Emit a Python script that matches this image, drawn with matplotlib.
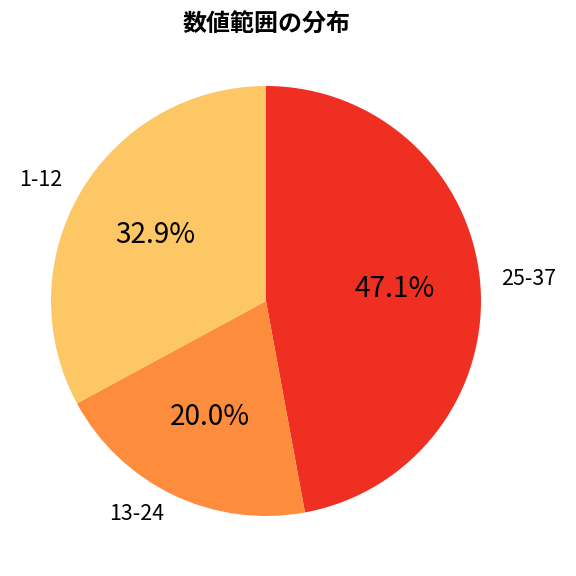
import matplotlib.pyplot as plt

plt.rcParams['font.family'] = ['Noto Sans CJK JP', 'DejaVu Sans']

labels = ['25-37', '13-24', '1-12']
shares = [47.1, 20.0, 32.9]
colors = ['#EE2F22', '#FD8D3C', '#FDC766']

W = 576.0
fig = plt.figure(figsize=(6, 6), dpi=96)
# pie centre at (266, 301) px from top-left, radius 215 px
r_px = 215.0
half = 1.25 * r_px
ax = fig.add_axes([(266 - half) / W, (W - 301 - half) / W, 2 * half / W, 2 * half / W])
wedges, texts, autotexts = ax.pie(shares, labels=labels, colors=colors,
                                  autopct='%1.1f%%', startangle=90,
                                  counterclock=False,
                                  textprops={'fontsize': 16})
for t in autotexts:
    t.set_fontsize(21)
ax.set_xlim(-1.25, 1.25)
ax.set_ylim(-1.25, 1.25)
fig.text(266 / W, 1 - 25 / W, '数値範囲の分布', fontsize=18, fontweight='bold',
         ha='center', va='center')
fig.savefig('out.png')
